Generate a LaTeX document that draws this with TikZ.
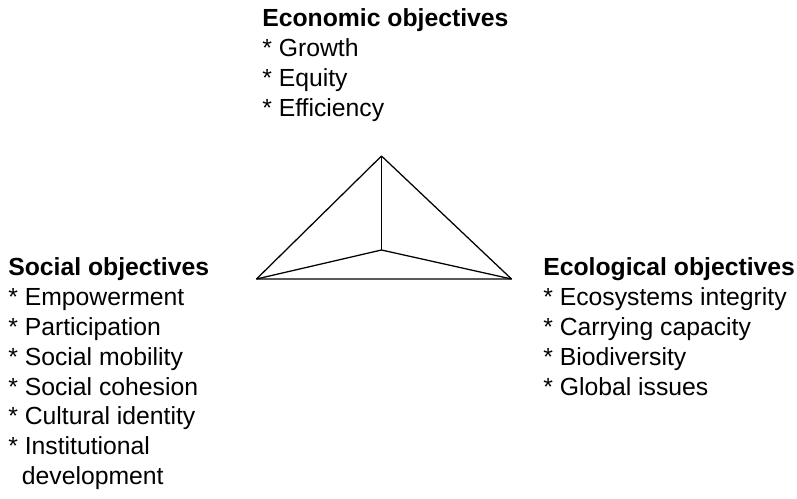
\documentclass[tikz,border=0pt]{standalone}
\usepackage{fontspec}
\setmainfont{Liberation Sans}
\begin{document}
\begin{tikzpicture}[x=0.025cm,y=-0.025cm,
  objtext/.style={anchor=north west,inner sep=0pt,align=left,
    font=\fontsize{17.6}{21.3}\selectfont},
  edge/.style={line width=0.9pt,line join=round}]
  % helper grid: comment for final drawing
  % \draw[help lines,step=20] (0,0) grid (797,499);
  % \foreach \x in {0,100,...,700}
  %      \node[anchor=north] at (\x,500) {\x};
  \useasboundingbox (0,0) rectangle (797,499);

  % corners of the triangle
  \coordinate (apex)  at (381.5,156);
  \coordinate (left)  at (256.5,279);
  \coordinate (right) at (511.5,279);
  \coordinate (mid)   at (381.5,250);

  % outer triangle
  \draw[edge] (left) -- (apex) -- (right) -- cycle;
  % inner lines
  \draw[edge] (apex) -- (mid);
  \draw[edge] (left) -- (mid) -- (right);

  % objectives
  \node[objtext] (econ) at (262,8)
    {\textbf{Economic objectives}\\{}* Growth\\{}* Equity\\{}* Efficiency};
  \node[objtext] (social) at (8,257)
    {\textbf{Social objectives}\\{}* Empowerment\\{}* Participation\\{}* Social mobility\\{}* Social cohesion\\{}* Cultural identity\\{}* Institutional\\\hspace{0.55em}development};
  \node[objtext] (eco) at (543,257)
    {\textbf{Ecological objectives}\\{}* Ecosystems integrity\\{}* Carrying capacity\\{}* Biodiversity\\{}* Global issues};

\end{tikzpicture}
\end{document}
